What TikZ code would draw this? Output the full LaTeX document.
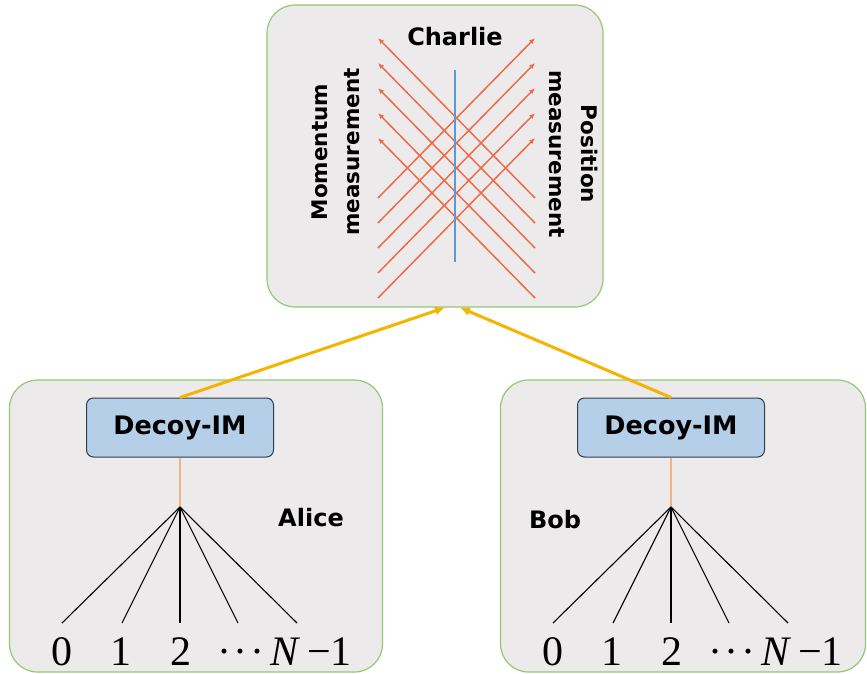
\documentclass[tikz,border=0pt]{standalone}
\usepackage{fontspec}
\setmainfont{Liberation Serif}
\setsansfont{DejaVu Sans}
\usepackage{tikz}
\usetikzlibrary{shapes,arrows.meta,positioning}

\definecolor{panelgray}{HTML}{ECEAEA}
\definecolor{panelgreen}{HTML}{94C973}
\definecolor{imblue}{HTML}{B6CFE8}
\definecolor{imedge}{HTML}{2F3E4E}
\definecolor{beamred}{HTML}{EE6A48}
\definecolor{splitblue}{HTML}{5B9BD5}
\definecolor{linkyellow}{HTML}{F4B400}
\definecolor{stemorange}{HTML}{F4B183}

\begin{document}
\begin{tikzpicture}[
    x=1pt, y=-1pt,
    panel/.style={draw=panelgreen, line width=1.2pt, fill=panelgray, rectangle, rounded corners=28pt, inner sep=0pt},
    imbox/.style={draw=imedge, line width=1pt, fill=imblue, rectangle, rounded corners=7pt, minimum width=187pt, minimum height=59pt, font=\sffamily\bfseries\fontsize{25.5}{30}\selectfont},
    tag/.style={font=\sffamily\bfseries\fontsize{24}{28}\selectfont},
    sidetag/.style={font=\sffamily\bfseries\fontsize{21.5}{32}\selectfont, align=center},
    num/.style={font=\fontsize{42}{48}\selectfont, inner sep=0pt},
    beam/.style={beamred, line width=1.5pt, -{Latex[length=6pt,width=5pt]}},
    link/.style={linkyellow, line width=3pt, -{Latex[length=10pt,width=9pt]}}
]
    \path[use as bounding box] (0,0) rectangle (867,674);

    % the three parties
    \node[panel, minimum width=336pt, minimum height=302pt] (charlie) at (435,156) {};
    \node[panel, minimum width=373pt, minimum height=292pt] (alice) at (196,526) {};
    \node[panel, minimum width=365pt, minimum height=292pt] (bob) at (683,526) {};

    % Charlie: crossed beams
    \node[tag] (clabel) at (455,37) {Charlie};
    \node[sidetag, rotate=90] (mom) at (336,152) {Momentum\\measurement};
    \node[sidetag, rotate=-90] (pos) at (574,154) {Position\\measurement};
    \foreach \k in {0,...,4}{
        \draw[beam] (535,{198+25*\k}) -- (378,{38+25*\k});
        \draw[beam] (378,{198+25*\k}) -- (535,{38+25*\k});
    }
    \draw[splitblue, line width=1.5pt] (455,70) -- (455,262);

    % Alice and Bob
    \node[imbox] (aim) at (180,427.5) {Decoy-IM};
    \node[imbox] (bim) at (671,427.5) {Decoy-IM};
    \coordinate (a-fan) at (180,507);
    \coordinate (b-fan) at (671,507);
    \node[tag] (aname) at ([shift={(131,11)}]a-fan) {Alice};
    \node[tag] (bname) at ([shift={(-116,13)}]b-fan) {Bob};

    \foreach \p in {a,b}{
        \draw[stemorange, line width=2.5pt] (\p im) -- (\p-fan);
        \foreach \i/\ex/\lx/\txt in {0/-118/-118/0, 1/-58/-59/1, 2/0/1/2, 3/58/61/{·\kern3pt·\kern3pt·}, 4/117/131/{\textit{N}\,−1}}{
            \coordinate (\p-end\i) at ([shift={(\ex,116)}]\p-fan);
            \node[num, anchor=base] (\p-num\i) at ([shift={(\lx,158)}]\p-fan) {\txt};
            \draw[line width=1.1pt] (\p-fan) -- (\p-end\i);
        }
    }

    \draw[link] (aim.north) -- ([xshift=10pt]charlie.south);
    \draw[link] (bim.north) -- ([xshift=25pt]charlie.south);
\end{tikzpicture}
\end{document}
